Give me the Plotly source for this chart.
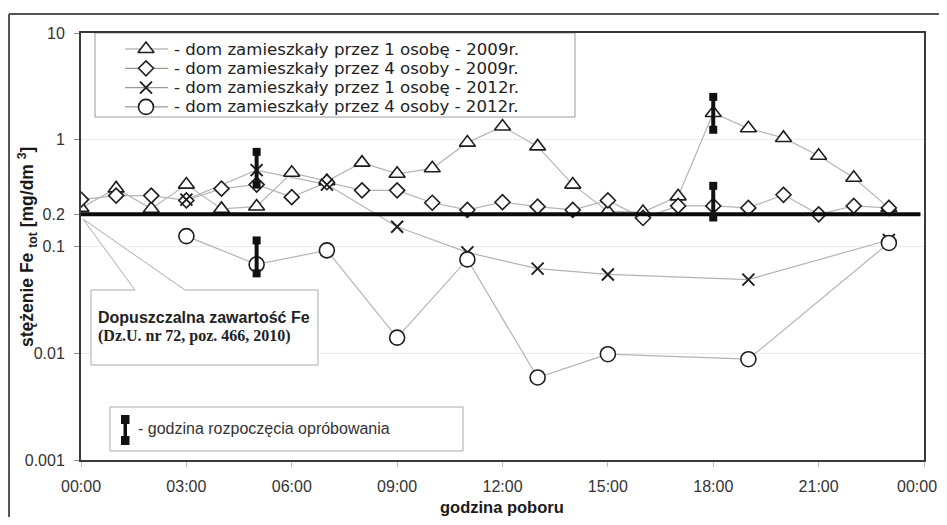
import plotly.graph_objects as go

# ---------------- data ----------------
hours_2009 = list(range(24))
fe_1os_2009 = [0.23, 0.35, 0.226, 0.38, 0.225, 0.237, 0.49, 0.41, 0.61, 0.48, 0.54, 0.94,
               1.33, 0.866, 0.38, 0.213, 0.21, 0.295, 1.78, 1.28, 1.04, 0.708, 0.44, 0.23]
fe_4os_2009 = [0.275, 0.30, 0.30, 0.27, 0.348, 0.38, 0.29, 0.40, 0.336, 0.336, 0.257, 0.22,
               0.26, 0.236, 0.22, 0.27, 0.185, 0.24, 0.24, 0.23, 0.305, 0.20, 0.24, 0.23]
hours_2012 = [3, 5, 7, 9, 11, 13, 15, 19, 23]
fe_1os_2012 = [0.275, 0.52, 0.38, 0.153, 0.088, 0.062, 0.0547, 0.049, 0.115]
fe_4os_2012 = [0.125, 0.068, 0.092, 0.014, 0.0757, 0.00593, 0.0098, 0.0088, 0.108]

limit_fe = 0.2
limit_hours = [0, 23.9]

start_hours = [5, 5, 18, 18]
start_low = [0.38, 0.056, 1.24, 0.187]
start_high = [0.77, 0.114, 2.52, 0.37]

x_tickvals = [0, 3, 6, 9, 12, 15, 18, 21, 24]
x_ticktext = ["00:00", "03:00", "06:00", "09:00", "12:00", "15:00", "18:00", "21:00", "00:00"]
y_tickvals = [0.001, 0.01, 0.1, 0.2, 1, 10]
y_ticktext = ["0.001", "0.01", "0.1", "0.2", "1", "10"]

series_names = [
    "- dom zamieszkały przez 1 osobę - 2009r.",
    "- dom zamieszkały przez 4 osoby - 2009r.",
    "- dom zamieszkały przez 1 osobę - 2012r.",
    "- dom zamieszkały przez 4 osoby - 2012r.",
]
limit_text_1 = "Dopuszczalna zawartość Fe"
limit_text_2 = "(Dz.U. nr 72, poz. 466, 2010)"
start_text = "- godzina rozpoczęcia opróbowania"
x_title = "godzina poboru"
y_title = "stężenie Fe <sub>tot</sub> [mg/dm <sup>3</sup>]"

# ---------------- geometry (page pixels; the page body keeps an 8px margin) ----------------
PAGE_W, PAGE_H = 947, 525
OFF = 8
W, H = PAGE_W - 2 * OFF, PAGE_H - 2 * OFF
L, R, T, B = 81, 924, 33, 460   # plot area in page pixels


def px(x):
    return (x - L) / (R - L)


def py(y):
    return (B - y) / (B - T)


FONT = "Liberation Sans, Arial, sans-serif"
LEG_FONT = "DejaVu Sans, Liberation Sans, sans-serif"
LINE_GRAY = "#b4b4b4"
MK_COL = "#1e1e1e"

symbols = ["triangle-up", "diamond", "x-thin", "circle"]
sizes = [14, 11.5, 12, 15]
mk_lw = [1.6, 1.6, 1.9, 1.6]
series = [
    (hours_2009, fe_1os_2009),
    (hours_2009, fe_4os_2009),
    (hours_2012, fe_1os_2012),
    (hours_2012, fe_4os_2012),
]

fig = go.Figure()

# connecting lines first
for (xs, ys) in series:
    fig.add_trace(go.Scatter(x=xs, y=ys, mode="lines",
                             line=dict(color=LINE_GRAY, width=1.2),
                             showlegend=False, hoverinfo="skip"))

# markers
for (xs, ys), sym, sz, lw in zip(series, symbols, sizes, mk_lw):
    fig.add_trace(go.Scatter(x=xs, y=ys, mode="markers",
                             marker=dict(symbol=sym, size=sz, color="white",
                                         line=dict(color=MK_COL, width=lw)),
                             showlegend=False, hoverinfo="skip"))

# permissible limit line
fig.add_trace(go.Scatter(x=limit_hours, y=[limit_fe, limit_fe], mode="lines",
                         line=dict(color="#0a0a0a", width=4),
                         showlegend=False, hoverinfo="skip"))

# sampling-start I-beams
for h, lo, hi in zip(start_hours, start_low, start_high):
    fig.add_trace(go.Scatter(x=[h, h], y=[lo, hi], mode="lines+markers",
                             line=dict(color="#111", width=4),
                             marker=dict(symbol="square", size=8, color="#111"),
                             showlegend=False, hoverinfo="skip"))

# legend icons on overlay axes (0..1 across the plot area)
leg_rows_y = [49, 68.3, 87.6, 106.9]
for ry, sym, sz, lw in zip(leg_rows_y, symbols, sizes, mk_lw):
    fig.add_trace(go.Scatter(x=[px(125), px(168)], y=[py(ry), py(ry)], mode="lines",
                             line=dict(color="#999", width=1.2), xaxis="x2", yaxis="y2",
                             showlegend=False, hoverinfo="skip"))
    fig.add_trace(go.Scatter(x=[px(146)], y=[py(ry)], mode="markers",
                             marker=dict(symbol=sym, size=sz, color="white",
                                         line=dict(color=MK_COL, width=lw)),
                             xaxis="x2", yaxis="y2", showlegend=False, hoverinfo="skip"))

shapes = []
# outer frame (top & left)
shapes.append(dict(type="line", xref="paper", yref="paper", x0=px(9), x1=px(960), y0=py(14), y1=py(14),
                   line=dict(color="#555", width=2)))
shapes.append(dict(type="line", xref="paper", yref="paper", x0=px(9), x1=px(9), y0=py(14), y1=py(540),
                   line=dict(color="#555", width=2)))
# legend box
shapes.append(dict(type="rect", xref="paper", yref="paper", x0=px(95), x1=px(575), y0=py(117), y1=py(33),
                   line=dict(color="#9a9a9a", width=1), fillcolor="white", layer="below"))
# callout box
callout = [(91, 290), (135, 290), (83, 219), (185, 290), (318, 290), (318, 365), (91, 365)]
path = "M " + " L ".join(f"{px(a):.5f},{py(b):.5f}" for a, b in callout) + " Z"
shapes.append(dict(type="path", xref="paper", yref="paper", path=path,
                   line=dict(color="#aaa", width=1), fillcolor="white", layer="above"))
# bottom legend box
shapes.append(dict(type="rect", xref="paper", yref="paper", x0=px(110), x1=px(463), y0=py(451), y1=py(407),
                   line=dict(color="#aaa", width=1), fillcolor="white", layer="above"))
# I-beam icon
shapes.append(dict(type="rect", xref="paper", yref="paper", x0=px(123.5), x1=px(127), y0=py(441), y1=py(419),
                   line=dict(width=0), fillcolor="#111", layer="above"))
shapes.append(dict(type="rect", xref="paper", yref="paper", x0=px(121), x1=px(129.5), y0=py(424), y1=py(415),
                   line=dict(width=0), fillcolor="#111", layer="above"))
shapes.append(dict(type="rect", xref="paper", yref="paper", x0=px(121), x1=px(129.5), y0=py(445), y1=py(436),
                   line=dict(width=0), fillcolor="#111", layer="above"))

annotations = []
for ry, name in zip(leg_rows_y, series_names):
    annotations.append(dict(xref="paper", yref="paper", x=px(172), y=py(ry), text=name,
                            showarrow=False, xanchor="left", yanchor="middle",
                            font=dict(family=LEG_FONT, size=16.6, color="#222")))
annotations.append(dict(xref="paper", yref="paper", x=px(96), y=py(317), text=f"<b>{limit_text_1}</b>",
                        showarrow=False, xanchor="left", yanchor="middle",
                        font=dict(family=FONT, size=16, color="#222")))
annotations.append(dict(xref="paper", yref="paper", x=px(96), y=py(336), text=f"<b>{limit_text_2}</b>",
                        showarrow=False, xanchor="left", yanchor="middle",
                        font=dict(family="Liberation Serif, Times New Roman, serif", size=16, color="#222")))
annotations.append(dict(xref="paper", yref="paper", x=px(136), y=py(428), text=start_text,
                        showarrow=False, xanchor="left", yanchor="middle",
                        font=dict(family=FONT, size=16, color="#333")))
annotations.append(dict(xref="paper", yref="paper", x=px(502), y=py(507), text=f"<b>{x_title}</b>",
                        showarrow=False, xanchor="center", yanchor="middle",
                        font=dict(family=FONT, size=16.5, color="#1a1a1a")))
annotations.append(dict(xref="paper", yref="paper", x=px(27), y=py(247), text=f"<b>{y_title}</b>",
                        showarrow=False, xanchor="center", yanchor="middle", textangle=-90,
                        font=dict(family=FONT, size=17.5, color="#1a1a1a")))
# last "00:00" tick label, pulled in so it is not cut by the page edge
annotations.append(dict(xref="x", yref="paper", x=x_tickvals[-1], y=py(486),
                        text=x_ticktext[-1], showarrow=False, xanchor="right", yanchor="middle",
                        xshift=15, font=dict(family=FONT, size=16, color="#333")))

shown_ticktext = x_ticktext[:-1] + [""]

fig.update_layout(
    width=W, height=H,
    margin=dict(l=L - OFF, r=W - (R - OFF), t=T - OFF, b=H - (B - OFF), pad=0),
    paper_bgcolor="white", plot_bgcolor="white",
    showlegend=False,
    font=dict(family=FONT, size=16, color="#333"),
    xaxis=dict(range=[0, 24], tickvals=x_tickvals, ticktext=shown_ticktext,
               showgrid=False, zeroline=False, showline=True, mirror=True,
               linecolor="#3a3a3a", linewidth=2, ticks="outside", ticklen=5,
               tickcolor="#bbb", ticklabelstandoff=6,
               tickfont=dict(family=FONT, size=16, color="#333")),
    yaxis=dict(type="log", range=[-3, 1], tickvals=y_tickvals, ticktext=y_ticktext,
               showgrid=True, gridcolor="#ececec", gridwidth=1, zeroline=False,
               showline=True, mirror=True, linecolor="#3a3a3a", linewidth=2,
               ticks="outside", ticklen=5, tickcolor="#888", ticklabelstandoff=6,
               tickfont=dict(family=FONT, size=16, color="#333")),
    xaxis2=dict(overlaying="x", range=[0, 1], visible=False, fixedrange=True),
    yaxis2=dict(overlaying="y", range=[0, 1], visible=False, fixedrange=True),
    shapes=shapes,
    annotations=annotations,
)

fig.write_html("out.html", config={"displayModeBar": False, "responsive": False})
